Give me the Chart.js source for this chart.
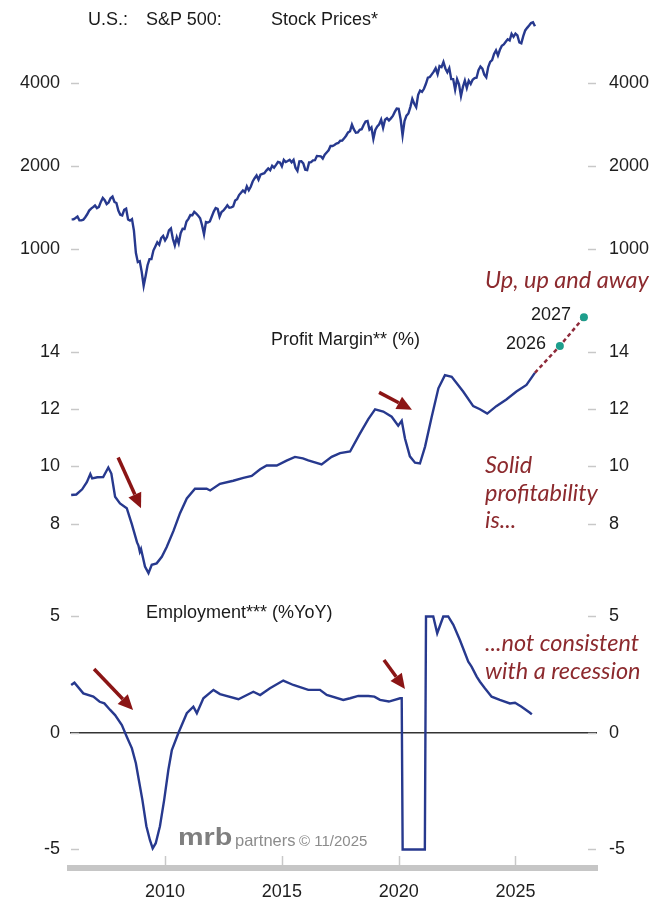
<!DOCTYPE html>
<html>
<head>
<meta charset="utf-8">
<script src="https://cdn.jsdelivr.net/npm/chart.js@4.4.1/dist/chart.umd.min.js"></script>
<style>
  body { margin: 0; background: #fff; }
  #wrap { position: relative; width: 656px; height: 901px; overflow: hidden; font-family: "Liberation Sans", Arial, sans-serif; color: #1a1a1a; }
  canvas { position: absolute; left: 0; }
  .lbl { position: absolute; white-space: nowrap; font-size: 18px; line-height: 20px; }
  .note { position: absolute; white-space: nowrap; font-family: Lato, "Open Sans", sans-serif; font-style: italic; font-size: 23.5px; line-height: 27.5px; color: #8c2a2e; }
  .mark { position: absolute; white-space: nowrap; color: #8c8c8c; line-height: 1; }
</style>
</head>
<body>
<div id="wrap">
  <canvas id="prices" width="656" height="300" style="top:0"></canvas>
  <canvas id="margin" width="656" height="290" style="top:300px"></canvas>
  <canvas id="jobs" width="656" height="311" style="top:590px"></canvas>

  <div class="lbl" style="left:88px; top:9px">U.S.:</div>
  <div class="lbl" style="left:146px; top:9px">S&amp;P 500:</div>
  <div class="lbl" style="left:271px; top:9px">Stock Prices*</div>
  <div class="lbl" style="left:271px; top:329px">Profit Margin** (%)</div>
  <div class="lbl" style="left:146px; top:602px">Employment*** (%YoY)</div>
  <div class="lbl" style="right:85px; top:304px">2027</div>
  <div class="lbl" style="right:110px; top:333px">2026</div>

  <div class="note" style="left:485px; top:266px">Up, up and away</div>
  <div class="note" style="left:485px; top:451px">Solid<br>profitability<br>is...</div>
  <div class="note" style="left:485px; top:629px">...not consistent<br>with a recession</div>

  <div class="mark" style="left:178px; top:826px; font-size:23px; font-weight:bold; color:#7f7f7f; transform:scaleX(1.25); transform-origin:left">mrb</div>
  <div class="mark" style="left:235px; top:832px; font-size:16.5px">partners</div>
  <div class="mark" style="left:299px; top:833px; font-size:15px">© 11/2025</div>
</div>

<script>
// S&P 500, monthly from Jan 2006
const spxStart = 2006;
const spxValues = [
  1280, 1281, 1295, 1311, 1270, 1270, 1277, 1304, 1336, 1378, 1401, 1418,
  1438, 1407, 1421, 1482, 1531, 1503, 1455, 1474, 1527, 1549, 1481, 1468,
  1379, 1331, 1323, 1386, 1400, 1280, 1267, 1283, 1166, 969, 896, 903,
  826, 735, 798, 873, 919, 919, 987, 1021, 1057, 1036, 1096, 1115,
  1074, 1104, 1169, 1187, 1089, 1031, 1102, 1049, 1141, 1183, 1181, 1258,
  1286, 1327, 1326, 1364, 1345, 1321, 1292, 1219, 1131, 1253, 1247, 1258,
  1312, 1366, 1408, 1398, 1310, 1362, 1379, 1407, 1441, 1412, 1416, 1426,
  1498, 1515, 1569, 1598, 1631, 1606, 1686, 1633, 1682, 1757, 1806, 1848,
  1783, 1859, 1872, 1884, 1924, 1960, 1931, 2003, 1972, 2018, 2068, 2059,
  1995, 2105, 2068, 2086, 2107, 2063, 2104, 1972, 1920, 2079, 2080, 2044,
  1940, 1932, 2060, 2065, 2097, 2099, 2174, 2171, 2168, 2126, 2199, 2239,
  2279, 2364, 2363, 2384, 2412, 2423, 2470, 2472, 2519, 2575, 2648, 2674,
  2824, 2714, 2641, 2648, 2705, 2718, 2816, 2902, 2914, 2712, 2760, 2507,
  2704, 2784, 2834, 2946, 2752, 2942, 2980, 2926, 2977, 3038, 3141, 3231,
  3226, 2954, 2585, 2912, 3044, 3100, 3271, 3500, 3363, 3270, 3622, 3756,
  3714, 3811, 3973, 4181, 4204, 4298, 4395, 4523, 4308, 4605, 4567, 4766,
  4516, 4374, 4530, 4132, 4132, 3785, 4130, 3955, 3586, 3872, 4080, 3840,
  4077, 3970, 4109, 4169, 4180, 4450, 4589, 4508, 4288, 4194, 4568, 4770,
  4846, 5096, 5254, 5036, 5278, 5460, 5522, 5648, 5762, 5705, 6032, 5882,
  6041, 5955, 5612, 5569, 5912, 6205, 6339, 6460, 6600, 6640, 6420
];

// profit margin (%)
const marginYears = [
  2005.98, 2006.2, 2006.45, 2006.65, 2006.8, 2006.88, 2007.1, 2007.35, 2007.57, 2007.7, 2007.86,
  2008.07, 2008.36, 2008.58, 2008.8, 2008.86, 2008.92, 2008.97, 2009.14, 2009.29, 2009.43, 2009.64, 2009.86,
  2010.07, 2010.36, 2010.64, 2010.93, 2011.28, 2011.78, 2011.93, 2012.35, 2012.92, 2013.35, 2013.71,
  2014.07, 2014.35, 2014.78, 2015.2, 2015.56, 2015.9, 2016.13, 2016.7, 2017.13, 2017.49, 2017.92,
  2018.34, 2018.7, 2018.99, 2019.34, 2019.7, 2019.98, 2020.13, 2020.27, 2020.48, 2020.7, 2020.91,
  2021.13, 2021.41, 2021.7, 2021.98, 2022.27, 2022.76, 2023.19, 2023.48, 2023.79,
  2024.18, 2024.61, 2025.04, 2025.47, 2025.83
];
const marginValues = [
  9.0, 9.02, 9.2, 9.45, 9.73, 9.58, 9.62, 9.63, 9.96, 9.75, 8.94,
  8.71, 8.54, 7.98, 7.35, 7.24, 7.02, 7.12, 6.51, 6.28, 6.57, 6.62, 6.85,
  7.19, 7.75, 8.37, 8.88, 9.22, 9.22, 9.16, 9.39, 9.5, 9.6, 9.67,
  9.9, 10.03, 10.03, 10.2, 10.33, 10.28, 10.21, 10.07, 10.33, 10.46, 10.52,
  11.14, 11.65, 11.99, 11.91, 11.73, 11.42, 11.59, 10.97, 10.35, 10.13, 10.1,
  10.69, 11.71, 12.72, 13.18, 13.12, 12.61, 12.1, 11.99, 11.84,
  12.1, 12.33, 12.61, 12.84, 13.26
];
const forecastYears = [2026.9, 2027.93];
const forecastValues = [14.2, 15.2];

// employment (%YoY), clipped at +/-5 as in the source
const jobsYears = [
  2005.98, 2006.12, 2006.5, 2006.93, 2007.2, 2007.4, 2007.65, 2007.86, 2008.15, 2008.36, 2008.58, 2008.75, 2008.85,
  2009.03, 2009.2, 2009.35, 2009.47, 2009.6, 2009.78, 2009.96, 2010.14, 2010.29, 2010.57, 2010.93,
  2011.21, 2011.36, 2011.64, 2012.07, 2012.35, 2013.14, 2013.78, 2014.07, 2014.49, 2015.06, 2015.49,
  2016.13, 2016.63, 2016.92, 2017.63, 2017.92, 2018.27, 2018.7, 2018.96, 2019.2, 2019.58, 2020.06, 2020.13,
  2020.17, 2021.12, 2021.17, 2021.48, 2021.65, 2021.91, 2022.12, 2022.34, 2022.62, 2022.84, 2022.98,
  2023.12, 2023.34, 2023.48, 2023.69, 2023.98, 2024.33, 2024.76, 2024.98, 2025.26, 2025.62, 2025.7
];
const jobsValues = [
  2.06, 2.16, 1.7, 1.56, 1.34, 1.27, 0.99, 0.77, 0.34, -0.16, -0.66, -1.3, -1.87,
  -2.88, -4.0, -4.59, -4.95, -4.73, -4.0, -2.88, -1.59, -0.73, 0.0, 0.85,
  1.13, 0.85, 1.49, 1.85, 1.67, 1.45, 1.77, 1.63, 1.92, 2.25, 2.06,
  1.85, 1.85, 1.63, 1.42, 1.49, 1.59, 1.59, 1.56, 1.42, 1.35, 1.49, 1.49,
  -5.0, -5.0, 5.0, 5.0, 4.28, 5.0, 5.0, 4.64, 3.99, 3.42, 3.06,
  2.85, 2.42, 2.2, 1.92, 1.56, 1.42, 1.27, 1.3, 1.13, 0.87, 0.8
];

const priceTicks = [1000, 2000, 4000];
const marginTicks = [8, 10, 12, 14];
const jobsTicks = [-5, 0, 5];
const yearTicks = [2010, 2015, 2020, 2025];

// arrows: [fromYear, fromValue, toYear, toValue]
const marginArrows = [[2007.99, 10.31, 2008.97, 8.54], [2019.16, 12.58, 2020.57, 11.97]];
const jobsArrows = [[2006.96, 2.75, 2008.63, 0.99], [2019.37, 3.13, 2020.27, 1.89]];

const FONT = '"Liberation Sans", Arial, sans-serif';
const NAVY = '#27398e';
const X_MIN = 2005.93, X_MAX = 2028.49;

// short grey tick dashes drawn just inside the plot
const insideTicks = {
  id: 'insideTicks',
  afterDraw(chart) {
    const { ctx, chartArea: a } = chart;
    ctx.save();
    ctx.strokeStyle = '#c8c8c8';
    ctx.lineWidth = 1.5;
    ['y', 'y2'].forEach((id) => {
      const s = chart.scales[id];
      s.ticks.forEach((t) => {
        const py = Math.round(s.getPixelForValue(t.value)) + 0.5;
        const x0 = id === 'y' ? a.left + 1 : a.right - 9;
        ctx.beginPath();
        ctx.moveTo(x0, py);
        ctx.lineTo(x0 + 8, py);
        ctx.stroke();
      });
    });
    const xs = chart.scales.x;
    if (xs.options.display) {
      xs.ticks.forEach((t) => {
        const px = Math.round(xs.getPixelForValue(t.value)) + 0.5;
        ctx.beginPath();
        ctx.moveTo(px, a.bottom - 12);
        ctx.lineTo(px, a.bottom - 3);
        ctx.stroke();
      });
    }
    ctx.restore();
  },
};

const arrowPlugin = {
  id: 'arrows',
  afterDatasetsDraw(chart, args, opts) {
    if (!opts.list) return;
    const { ctx } = chart;
    const xs = chart.scales.x, ys = chart.scales.y;
    ctx.save();
    ctx.strokeStyle = '#8b1515';
    ctx.fillStyle = '#8b1515';
    ctx.lineWidth = 3.5;
    opts.list.forEach(([ax, ay, bx, by]) => {
      const x1 = xs.getPixelForValue(ax), y1 = ys.getPixelForValue(ay);
      const x2 = xs.getPixelForValue(bx), y2 = ys.getPixelForValue(by);
      const ang = Math.atan2(y2 - y1, x2 - x1);
      const head = 15, hw = 7;
      const hx = x2 - head * Math.cos(ang), hy = y2 - head * Math.sin(ang);
      ctx.beginPath();
      ctx.moveTo(x1, y1);
      ctx.lineTo(hx, hy);
      ctx.stroke();
      ctx.beginPath();
      ctx.moveTo(x2, y2);
      ctx.lineTo(hx + hw * Math.sin(ang), hy - hw * Math.cos(ang));
      ctx.lineTo(hx - hw * Math.sin(ang), hy + hw * Math.cos(ang));
      ctx.closePath();
      ctx.fill();
    });
    ctx.restore();
  },
};

function yAxis(position, type, min, max, tickValues, zeroLine) {
  return {
    type,
    position,
    min,
    max,
    afterFit: (s) => {
      s.width = position === 'left' ? 70 : 59;
      s.paddingTop = 0;
      s.paddingBottom = 0;
    },
    afterBuildTicks: (s) => { s.ticks = tickValues.map((v) => ({ value: v })); },
    border: { display: false },
    grid: {
      display: !!zeroLine,
      drawTicks: false,
      lineWidth: 1.5,
      color: (c) => (c.tick && c.tick.value === 0 ? '#333' : 'rgba(0,0,0,0)'),
    },
    ticks: {
      font: { size: 18, family: FONT },
      color: '#1e1e1e',
      padding: position === 'left' ? 10 : 12,
      callback: (v) => String(v),
    },
  };
}

function xAxis(show) {
  return {
    type: 'linear',
    min: X_MIN,
    max: X_MAX,
    display: show,
    afterFit: (s) => {
      s.height = show ? 33 : 0;
      s.paddingLeft = 0;
      s.paddingRight = 0;
    },
    afterBuildTicks: (s) => { s.ticks = yearTicks.map((v) => ({ value: v })); },
    border: { display: true, color: '#c6c6c6', width: 6 },
    grid: { drawOnChartArea: false, drawTicks: false },
    ticks: { font: { size: 18, family: FONT }, color: '#1e1e1e', padding: 13, maxRotation: 0, callback: (v) => String(v) },
  };
}

function baseOptions(scales, arrows) {
  return {
    responsive: false,
    animation: false,
    events: [],
    devicePixelRatio: 1,
    layout: { padding: 0 },
    plugins: { legend: { display: false }, tooltip: { enabled: false }, arrows: { list: arrows } },
    scales,
  };
}

const lineStyle = { borderColor: NAVY, borderWidth: 2.4, pointRadius: 0, tension: 0, fill: false };

new Chart(document.getElementById('prices'), {
  type: 'line',
  data: {
    datasets: [{ ...lineStyle, data: spxValues.map((v, i) => ({ x: spxStart + i / 12, y: v })) }],
  },
  options: baseOptions({
    x: xAxis(false),
    y: yAxis('left', 'logarithmic', 653, 8000, priceTicks),
    y2: yAxis('right', 'logarithmic', 653, 8000, priceTicks),
  }, null),
  plugins: [insideTicks],
});

const lastYear = marginYears[marginYears.length - 1];
const lastMargin = marginValues[marginValues.length - 1];
new Chart(document.getElementById('margin'), {
  type: 'line',
  data: {
    datasets: [
      { ...lineStyle, data: marginYears.map((x, i) => ({ x, y: marginValues[i] })) },
      {
        data: [{ x: lastYear, y: lastMargin }].concat(forecastYears.map((x, i) => ({ x, y: forecastValues[i] }))),
        borderColor: '#8e2a3a',
        borderWidth: 2.5,
        borderDash: [4, 3],
        tension: 0,
        pointRadius: [0, 4, 4],
        pointBorderWidth: 0,
        pointBackgroundColor: '#1e9e8c',
      },
    ],
  },
  options: baseOptions({
    x: xAxis(false),
    y: yAxis('left', 'linear', 5.83, 15.66, marginTicks),
    y2: yAxis('right', 'linear', 5.83, 15.66, marginTicks),
  }, marginArrows),
  plugins: [insideTicks, arrowPlugin],
});

new Chart(document.getElementById('jobs'), {
  type: 'line',
  data: {
    datasets: [{ ...lineStyle, data: jobsYears.map((x, i) => ({ x, y: jobsValues[i] })) }],
  },
  options: baseOptions({
    x: xAxis(true),
    y: yAxis('left', 'linear', -5.794, 6.137, jobsTicks, true),
    y2: yAxis('right', 'linear', -5.794, 6.137, jobsTicks),
  }, jobsArrows),
  plugins: [insideTicks, arrowPlugin],
});
</script>
</body>
</html>
